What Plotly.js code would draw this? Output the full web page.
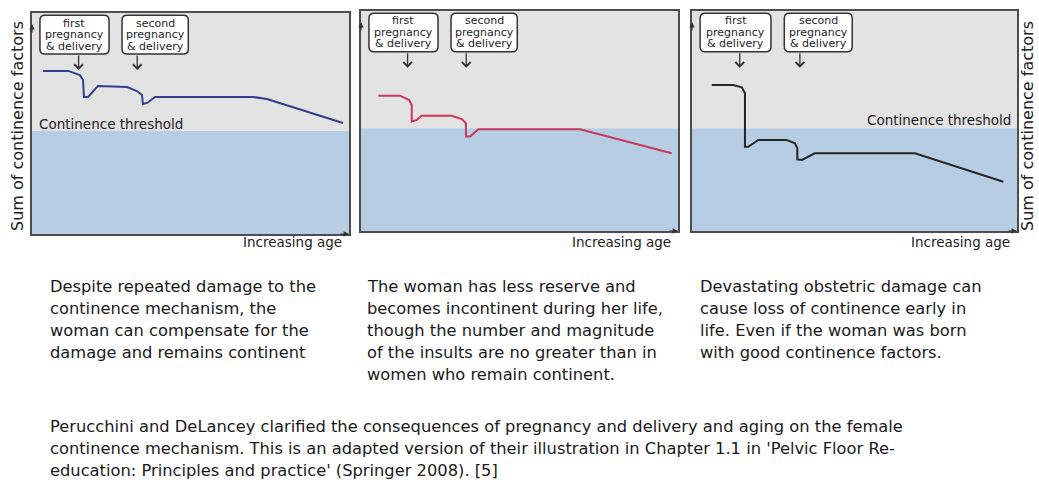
<!DOCTYPE html>
<html>
<head>
<meta charset="utf-8">
<script src="https://cdn.plot.ly/plotly-3.0.1.min.js"></script>
<style>
html,body{margin:0;padding:0;background:#fff;}
#chart{width:1039px;height:482px;}
</style>
</head>
<body>
<div id="chart"></div>
<script>
// ---------------- DATA ----------------
// x: relative age (0-100), y: sum of continence factors (0-100)
const age1 = [3.5, 11.4, 15.1, 16.1, 16.4, 17.7, 20.8, 30.0, 33.1, 34.7, 35.0, 36.3, 38.8, 69.7, 74.1, 98.1];
const factors1 = [73.8, 73.8, 71.9, 69.7, 62.0, 62.0, 67.0, 66.5, 64.7, 62.9, 58.8, 59.3, 62.0, 62.0, 61.1, 50.2];

const age2 = [5.5, 12.3, 15.2, 16.0, 16.0, 17.6, 19.1, 28.6, 31.8, 33.1, 33.1, 34.4, 37.0, 69.1, 98.0];
const factors2 = [61.5, 61.5, 59.5, 57.3, 49.7, 50.5, 52.4, 52.4, 50.9, 49.0, 42.9, 42.9, 46.2, 46.2, 35.3];

const age3 = [6.1, 12.7, 15.3, 16.3, 16.3, 17.3, 20.4, 29.1, 31.7, 32.4, 32.4, 33.8, 37.8, 68.6, 95.8];
const factors3 = [66.4, 66.4, 65.3, 62.6, 38.3, 38.3, 41.4, 41.4, 39.9, 37.6, 32.6, 32.3, 35.3, 35.3, 22.4];

const thresholds = [46.7, 46.7, 46.7];
const eventAges = [14.7, 33.2];
const eventLabels = [["first", "pregnancy", "& delivery"], ["second", "pregnancy", "& delivery"]];
const lineColors = ["#333f8a", "#c8375e", "#262626"];

const yAxisLabel = "Sum of continence factors";
const xAxisLabel = "Increasing age";
const thresholdLabel = "Continence threshold";

const captions = [
  ["Despite repeated damage to the", "continence mechanism, the", "woman can compensate for the", "damage and remains continent"],
  ["The woman has less reserve and", "becomes incontinent during her life,", "though the number and magnitude", "of the insults are no greater than in", "women who remain continent."],
  ["Devastating obstetric damage can", "cause loss of continence early in", "life. Even if the woman was born", "with good continence factors."]
];
const footnote = [
  "Perucchini and DeLancey clarified the consequences of pregnancy and delivery and aging on the female",
  "continence mechanism. This is an adapted version of their illustration in Chapter 1.1 in 'Pelvic Floor Re-",
  "education: Principles and practice' (Springer 2008). [5]"
];

// ---------------- LAYOUT ----------------
const W = 1039, H = 482;
const FONT = "DejaVu Sans, Liberation Sans, Arial, sans-serif";
const panels = [
  {x0: 32, x1: 349, y0: 13, y1: 234},
  {x0: 361, x1: 678, y0: 11, y1: 231},
  {x0: 692, x1: 1017, y0: 11, y1: 231}
];
const series = [[age1, factors1], [age2, factors2], [age3, factors3]];
const px = v => v / W;
const py = v => 1 - v / H;

const boxX = [[2.5, 24.3], [28.4, 49.3]];
const boxY = [81.5, 99.0];
const arrowTipY = 74.2;

function rbox(x0, x1, y0, y1, rx, ry) {
  return `M${x0+rx},${y1} L${x1-rx},${y1} Q${x1},${y1} ${x1},${y1-ry} L${x1},${y0+ry} Q${x1},${y0} ${x1-rx},${y0} ` +
         `L${x0+rx},${y0} Q${x0},${y0} ${x0},${y0+ry} L${x0},${y1-ry} Q${x0},${y1} ${x0+rx},${y1} Z`;
}

const traces = [];
const shapes = [];
const annotations = [];
const layout = {
  width: W, height: H,
  margin: {l: 0, r: 0, t: 0, b: 0},
  paper_bgcolor: "#ffffff",
  plot_bgcolor: "#ffffff",
  showlegend: false,
  font: {family: FONT, color: "#222"}
};

panels.forEach((p, i) => {
  const n = i === 0 ? "" : String(i + 1);
  const xr = "x" + n, yr = "y" + n;
  const axCommon = {
    range: [0, 100], showticklabels: false, showgrid: false, zeroline: false,
    showline: true, mirror: true, linecolor: "#4d4d4d", linewidth: 2, ticks: "", fixedrange: true
  };
  layout["xaxis" + n] = Object.assign({}, axCommon, {domain: [px(p.x0), px(p.x1)], anchor: yr});
  layout["yaxis" + n] = Object.assign({}, axCommon, {domain: [py(p.y1), py(p.y0)], anchor: xr});

  traces.push({
    type: "scatter", mode: "lines", x: series[i][0], y: series[i][1],
    xaxis: xr, yaxis: yr, line: {color: lineColors[i], width: 2}, hoverinfo: "skip"
  });

  // background regions
  shapes.push({type: "rect", xref: xr, yref: yr, x0: 0, x1: 100, y0: thresholds[i], y1: 100,
               fillcolor: "#e3e3e3", line: {width: 0}, layer: "below"});
  shapes.push({type: "rect", xref: xr, yref: yr, x0: 0, x1: 100, y0: 0, y1: thresholds[i],
               fillcolor: "#b7cde4", line: {width: 0}, layer: "below"});

  // event boxes + arrows
  const pxPerX = (p.x1 - p.x0) / 100, pxPerY = (p.y1 - p.y0) / 100;
  eventAges.forEach((ea, k) => {
    const bx = boxX[k];
    shapes.push({type: "path", xref: xr, yref: yr,
                 path: rbox(bx[0], bx[1], boxY[0], boxY[1], 5 / pxPerX, 5 / pxPerY),
                 fillcolor: "#ffffff", line: {color: "#333", width: 1.5}, layer: "above"});
    const cx = (bx[0] + bx[1]) / 2, cy = (boxY[0] + boxY[1]) / 2;
    eventLabels[k].forEach((t, j) => {
      annotations.push({xref: xr, yref: yr, x: cx, y: cy, yshift: 11.5 * (1 - j), text: t,
                        showarrow: false, xanchor: "center", yanchor: "middle",
                        font: {family: FONT, size: 11, color: "#1e1e1e"}});
    });
    annotations.push({xref: xr, yref: yr, x: ea, y: arrowTipY, axref: xr, ayref: yr, ax: ea, ay: boxY[0],
                      text: "", showarrow: true, arrowhead: 4, arrowsize: 1.3, arrowwidth: 1.3, arrowcolor: "#333"});
  });

  // axis arrows
  annotations.push({xref: xr, yref: yr, x: 100, y: 0, ax: -10, ay: 0, text: "", showarrow: true,
                    arrowhead: 2, arrowsize: 0.9, arrowwidth: 1.2, arrowcolor: "#333"});
  annotations.push({xref: xr, yref: yr, x: 0, y: 95, ax: 0, ay: 10, text: "", showarrow: true,
                    arrowhead: 2, arrowsize: 0.9, arrowwidth: 1.2, arrowcolor: "#333"});

  // x axis label
  annotations.push({xref: "paper", yref: "paper", x: px(p.x1 - 5), y: py(242), text: xAxisLabel,
                    showarrow: false, xanchor: "right", yanchor: "middle",
                    font: {family: FONT, size: 13.5, color: "#222"}});
});

// threshold labels
annotations.push({xref: "paper", yref: "paper", x: px(37), y: py(124), text: thresholdLabel, showarrow: false,
                  xanchor: "left", yanchor: "middle", font: {family: FONT, size: 13.5, color: "#222"}});
annotations.push({xref: "paper", yref: "paper", x: px(1013), y: py(120), text: thresholdLabel, showarrow: false,
                  xanchor: "right", yanchor: "middle", font: {family: FONT, size: 13.5, color: "#222"}});

// y axis labels
[18, 1028].forEach(xp => {
  annotations.push({xref: "paper", yref: "paper", x: px(xp), y: py(126), text: yAxisLabel, showarrow: false,
                    textangle: -90, xanchor: "center", yanchor: "middle",
                    font: {family: FONT, size: 16, color: "#222"}});
});

// captions
const capX = [48, 365, 698];
captions.forEach((lines, i) => {
  lines.forEach((t, j) => {
    annotations.push({xref: "paper", yref: "paper", x: px(capX[i]), y: py(286 + 22.2 * j), text: t,
                      showarrow: false, xanchor: "left", yanchor: "middle",
                      font: {family: FONT, size: 16.3, color: "#1a1a1a"}});
  });
});
footnote.forEach((t, j) => {
  annotations.push({xref: "paper", yref: "paper", x: px(48), y: py(426 + 22 * j), text: t,
                    showarrow: false, xanchor: "left", yanchor: "middle",
                    font: {family: FONT, size: 16.3, color: "#1a1a1a"}});
});

layout.shapes = shapes;
layout.annotations = annotations;

Plotly.newPlot("chart", traces, layout, {displayModeBar: false, staticPlot: true});
</script>
</body>
</html>
